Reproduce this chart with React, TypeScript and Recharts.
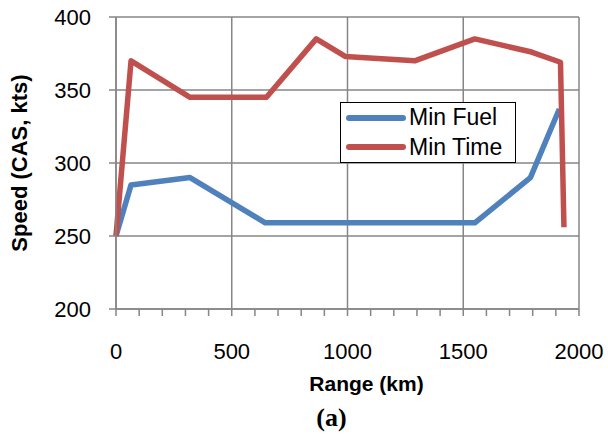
import { LineChart, Line, XAxis, YAxis, CartesianGrid, Legend, Label } from 'recharts';

// Range (km) / speed (CAS, kts)
const fuelRange = [0, 65, 320, 645, 1550, 1790, 1915];
const fuelSpeed = [250, 285, 290, 259, 259, 290, 337];
const timeRange = [0, 65, 320, 650, 865, 990, 1290, 1550, 1795, 1920, 1935];
const timeSpeed = [250, 370, 345, 345, 385, 373, 370, 385, 376, 369, 256];

const xTicks = [0, 100, 200, 300, 400, 500, 600, 700, 800, 900, 1000, 1100, 1200, 1300, 1400, 1500, 1600, 1700, 1800, 1900, 2000];
const xLabelled = [0, 500, 1000, 1500, 2000];
const yTicks = [200, 250, 300, 350, 400];

const seriesNames = ['Min Fuel', 'Min Time'];
const seriesColors = ['#4F81BD', '#C0504D'];

const fuelData = fuelRange.map((r, i) => ({ range: r, speed: fuelSpeed[i] }));
const timeData = timeRange.map((r, i) => ({ range: r, speed: timeSpeed[i] }));

const XTick = (props: any) => {
  const { x, y, payload } = props;
  if (!xLabelled.includes(payload.value)) return null;
  return (
    <text x={x} y={y} dy="0.71em" textAnchor="middle" fill="#000" fontSize={22}>
      {payload.value}
    </text>
  );
};

const LegendBox = () => (
  <div style={{ border: '1.5px solid #000', background: '#fff', width: 174, height: 59, boxSizing: 'content-box' }}>
    {seriesNames.map((name, i) => (
      <div key={name} style={{ display: 'flex', alignItems: 'center', height: 29.5 }}>
        <svg width={64} height={12} style={{ marginLeft: 4 }}>
          <line x1={4} y1={6} x2={58} y2={6} stroke={seriesColors[i]} strokeWidth={6} strokeLinecap="round" />
        </svg>
        <span style={{ fontSize: 23, color: '#000' }}>{name}</span>
      </div>
    ))}
  </div>
);

export default function App() {
  return (
    <div style={{ position: 'absolute', left: 0, top: 0, fontFamily: '"Liberation Sans", Arial, sans-serif' }}>
      <LineChart width={608} height={440} margin={{ top: 17, right: 29, left: 0, bottom: 0 }}>
        <CartesianGrid stroke="#868686" strokeWidth={1.5} verticalValues={xLabelled} horizontalValues={yTicks} />
        <XAxis
          type="number"
          dataKey="range"
          domain={[0, 2000]}
          ticks={xTicks}
          interval={0}
          height={131}
          tickSize={7}
          tickMargin={27}
          tick={<XTick />}
          axisLine={{ stroke: '#868686', strokeWidth: 1.5 }}
          tickLine={{ stroke: '#868686', strokeWidth: 1.5 }}
        >
          <Label value="Range (km)" position="insideTop" offset={67} dx={19} fill="#000" fontSize={21} fontWeight="bold" />
          <Label value="(a)" position="insideTop" offset={99} dx={-16} fill="#000" fontSize={26} fontWeight="bold" fontFamily='"Liberation Serif", "Times New Roman", serif' />
        </XAxis>
        <YAxis
          type="number"
          dataKey="speed"
          domain={[200, 400]}
          ticks={yTicks}
          width={116}
          tickSize={7}
          tickMargin={18}
          tick={{ fill: '#000', fontSize: 22 }}
          axisLine={{ stroke: '#868686', strokeWidth: 1.5 }}
          tickLine={{ stroke: '#868686', strokeWidth: 1.5 }}
        >
          <Label value="Speed (CAS, kts)" angle={-90} position="insideLeft" offset={19} textAnchor="middle" fill="#000" fontSize={22} fontWeight="bold" />
        </YAxis>
        <Legend
          layout="horizontal"
          verticalAlign="middle"
          align="center"
          content={<LegendBox />}
          wrapperStyle={{ position: 'absolute', left: 340, top: 102, width: 177, height: 62 }}
        />
        <Line data={fuelData} dataKey="speed" name={seriesNames[0]} type="linear" stroke={seriesColors[0]} strokeWidth={5.5} strokeLinejoin="round" dot={false} isAnimationActive={false} />
        <Line data={timeData} dataKey="speed" name={seriesNames[1]} type="linear" stroke={seriesColors[1]} strokeWidth={5.5} strokeLinejoin="round" dot={false} isAnimationActive={false} />
      </LineChart>
    </div>
  );
}
